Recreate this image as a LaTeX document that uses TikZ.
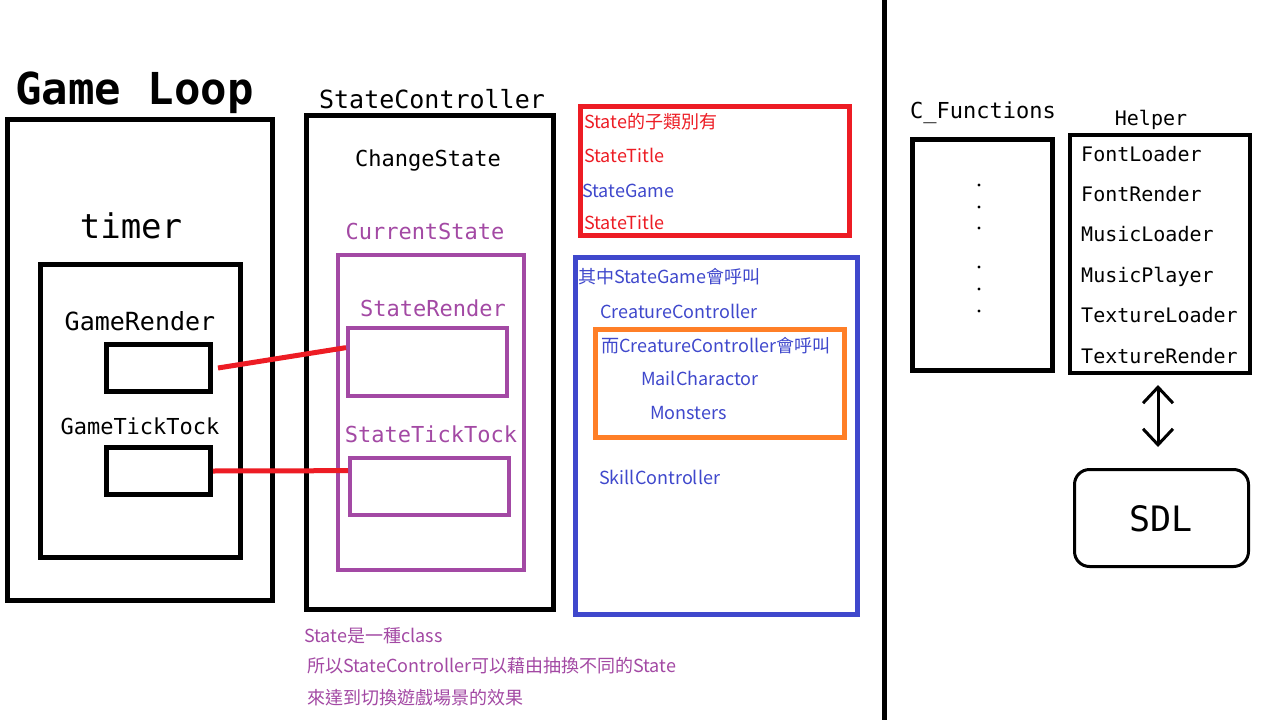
\documentclass[tikz,border=0pt]{standalone}
\usepackage{fontspec}
\setmonofont{DejaVu Sans Mono}
\newfontfamily\cjk{Noto Sans CJK TC}
\usetikzlibrary{arrows.meta}

\definecolor{paintred}{HTML}{ED1C24}
\definecolor{paintblue}{HTML}{3F48CC}
\definecolor{paintpurple}{HTML}{A349A4}
\definecolor{paintorange}{HTML}{FF7F27}

\tikzset{
  box/.style={draw=black,line width=5pt,inner sep=0pt},
  pbox/.style={draw=paintpurple,line width=4pt,inner sep=0pt},
  mono/.style={font=\ttfamily\fontsize{22}{26}\selectfont,inner sep=0pt,anchor=base},
  note/.style={font=\cjk\fontsize{18}{22}\selectfont,inner sep=0pt,anchor=base west},
  link/.style={draw=paintred,line width=5pt}
}

\begin{document}
\begin{tikzpicture}[x=1pt,y=-1pt]

\useasboundingbox[fill=white] (0,0) rectangle (1280,720);

% game loop
\node[mono,anchor=base west,font=\ttfamily\bfseries\fontsize{44}{48}\selectfont] (looptitle) at (15,104) {Game Loop};
\node[box,minimum width=265pt,minimum height=481pt] (loopbox) at (140,360) {};
\node[mono,font=\ttfamily\fontsize{34}{38}\selectfont] (timertitle) at (131,238) {timer};
\node[box,minimum width=200pt,minimum height=293pt] (timerbox) at (140.5,411) {};
\node[mono,font=\ttfamily\fontsize{25}{29}\selectfont] (grtitle) at (140,330) {GameRender};
\node[box,minimum width=104pt,minimum height=47pt] (grbox) at (158.5,368) {};
\node[mono] (gttitle) at (140,434) {GameTickTock};
\node[box,minimum width=104pt,minimum height=47pt] (gtbox) at (158.5,471) {};

% state controller
\node[mono,font=\ttfamily\fontsize{25}{29}\selectfont] (ctrltitle) at (432,108) {StateController};
\node[box,minimum width=247pt,minimum height=494pt] (ctrlbox) at (430,362.5) {};
\node[mono] (changestate) at (428,166) {ChangeState};
\node[mono,text=paintpurple] (curtitle) at (425,239) {CurrentState};
\node[pbox,minimum width=186pt,minimum height=315pt] (curbox) at (431,412.5) {};
\node[mono,text=paintpurple] (srtitle) at (433,316) {StateRender};
\node[pbox,minimum width=159pt,minimum height=68pt] (srbox) at (427.5,362) {};
\node[mono,text=paintpurple] (sttitle) at (431,442) {StateTickTock};
\node[pbox,minimum width=159pt,minimum height=57pt] (stbox) at (429.5,486.5) {};

\draw[link] (grbox.east) ++(5,0) coordinate (grend) (grend) -- (srbox.170);
\draw[link] (gtbox.east) -- (stbox.169);

\node[note,text=paintpurple] (state1) at (304,642) {State是一種class};
\node[note,text=paintpurple] (state2) at (307,672) {所以StateController可以藉由抽換不同的State};
\node[note,text=paintpurple] (state3) at (307,704) {來達到切換遊戲場景的效果};

% sub classes
\node[draw=paintred,line width=5pt,minimum width=269pt,minimum height=129pt] (subbox) at (715,171) {};
\node[note,text=paintred] (sub1) at (584,128) {State的子類別有};
\node[note,text=paintred] (sub2) at (584,162) {StateTitle};
\node[note,text=paintblue] (sub3) at (582,197) {StateGame};
\node[note,text=paintred] (sub4) at (584,229) {StateTitle};

\node[draw=paintblue,line width=5pt,minimum width=282pt,minimum height=357pt] (gamebox) at (716.5,436) {};
\node[note,text=paintblue] (game1) at (578,283) {其中StateGame會呼叫};
\node[note,text=paintblue] (game2) at (600,318) {CreatureController};
\node[note,text=paintblue] (game3) at (599,484) {SkillController};

\node[draw=paintorange,line width=5pt,minimum width=249pt,minimum height=108pt] (crbox) at (720,383.5) {};
\node[note,text=paintblue] (cr1) at (601,352) {而CreatureController會呼叫};
\node[note,text=paintblue] (cr2) at (641,385) {MailCharactor};
\node[note,text=paintblue] (cr3) at (650,419) {Monsters};

% divider
\coordinate (divtop) at (884,0);
\coordinate (divbot) at (884,720);
\draw[line width=5pt] (divtop) -- (divbot);

% c functions
\node[mono] (cftitle) at (983,118) {C\_Functions};
\node[box,minimum width=140pt,minimum height=231pt] (cfbox) at (982.5,255) {};
\foreach \y in {185,207,228,267,289,311}
	\fill (979,\y) circle (1.6pt);

% helper
\node[mono,font=\ttfamily\fontsize{20}{24}\selectfont] (helpertitle) at (1151,125) {Helper};
\node[draw=black,line width=4pt,minimum width=180pt,minimum height=238pt] (helperbox) at (1160,254) {};
\foreach \name [count=\i from 0] in {FontLoader,FontRender,MusicLoader,MusicPlayer,TextureLoader,TextureRender}
	\node[mono,anchor=base west,font=\ttfamily\fontsize{20}{24}\selectfont] (helper\i) at (1081,161+40.4*\i) {\name};

\node[draw=black,line width=3pt,rounded corners=15pt,minimum width=174pt,minimum height=97pt] (sdlbox) at (1161.5,518) {};
\node[mono,font=\ttfamily\fontsize{35}{40}\selectfont] (sdltitle) at (1161,531) {SDL};

\draw[line width=3pt,{Straight Barb[length=16pt,width=30pt,line width=3pt]}-{Straight Barb[length=16pt,width=30pt,line width=3pt]},shorten <=10pt,shorten >=21pt]
	(helperbox.south -| 1158,0) -- (sdlbox.north -| 1158,0);

\end{tikzpicture}
\end{document}
